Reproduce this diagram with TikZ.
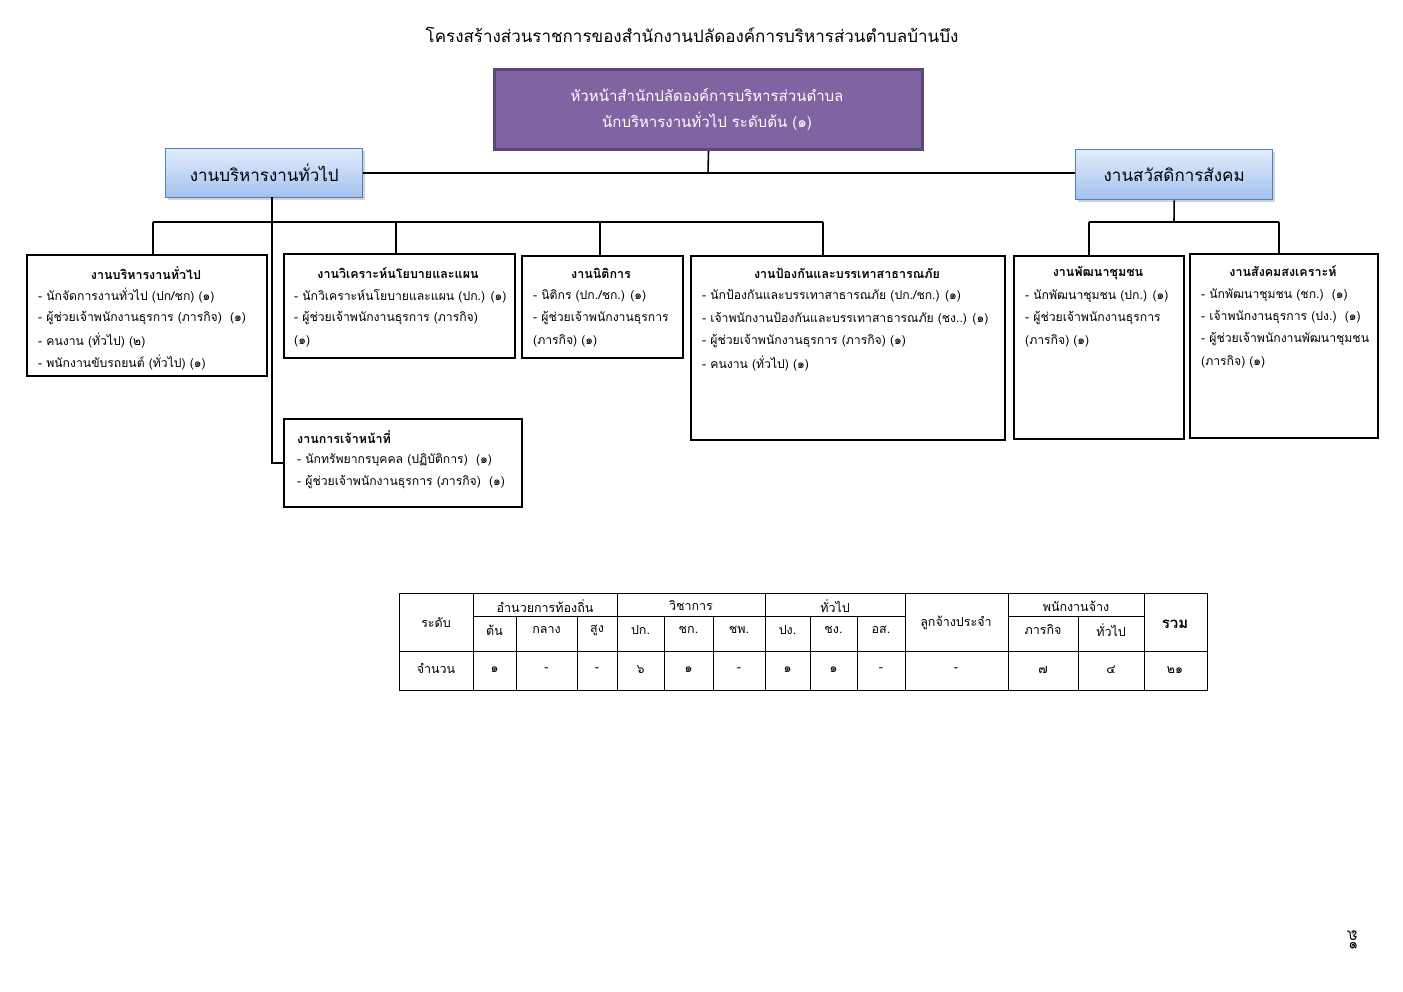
\documentclass[tikz,border=0pt]{standalone}
\usepackage{fontspec}
\setmainfont[Script=Thai]{Loma}
\usetikzlibrary{shadows}
\definecolor{purplefill}{HTML}{8064A2}
\definecolor{purpleedge}{HTML}{5C4878}
\definecolor{bluetop}{HTML}{E2ECFB}
\definecolor{bluebot}{HTML}{A3C1EF}
\definecolor{blueedge}{HTML}{4F81BD}
\tikzset{
  conn/.style={draw=black,line width=1.6pt},
  unitbox/.style={draw=black,line width=2.4pt,fill=white,anchor=north west,inner sep=0pt},
  headbox/.style={draw=purpleedge,line width=3pt,fill=purplefill,anchor=north west,inner sep=0pt},
  groupbox/.style={draw=blueedge,line width=1.4pt,top color=bluetop,bottom color=bluebot,anchor=north west,inner sep=0pt,
     drop shadow={shadow xshift=2pt,shadow yshift=-2pt,fill=black!35}},
  unittitle/.style={anchor=center,inner sep=0pt,font=\fontsize{12.5}{14}\selectfont\bfseries},
  item/.style={anchor=west,inner sep=0pt,font=\fontsize{12.2}{14}\selectfont},
  cell/.style={anchor=center,inner sep=0pt,font=\fontsize{12.5}{14}\selectfont},
  tline/.style={draw=black,line width=0.8pt}
}
\begin{document}
\begin{tikzpicture}[x=1pt,y=-1pt]
\useasboundingbox[fill=white] (0,0) rectangle (1403,992);

% title
\node[inner sep=0pt,font=\fontsize{17}{19}\selectfont] (title) at (692,35) {โครงสร้างส่วนราชการของสำนักงานปลัดองค์การบริหารส่วนตำบลบ้านบึง};

% head box
\node[headbox,minimum width=428pt,minimum height=80pt] (head) at (493,68) {};
\node[inner sep=0pt,text=white,font=\fontsize{15}{17}\selectfont] (headA) at (707,95) {หัวหน้าสำนักปลัดองค์การบริหารส่วนตำบล};
\node[inner sep=0pt,text=white,font=\fontsize{15}{17}\selectfont] (headB) at (707,121) {นักบริหารงานทั่วไป ระดับต้น (๑)};

% group boxes
\node[groupbox,minimum width=197pt,minimum height=49pt] (g1) at (165,148) {};
\node[inner sep=0pt,font=\fontsize{17}{19}\selectfont] (g1t) at (g1.center) {งานบริหารงานทั่วไป};
\node[groupbox,minimum width=197pt,minimum height=50pt] (g2) at (1075,149) {};
\node[inner sep=0pt,font=\fontsize{17}{19}\selectfont] (g2t) at (g2.center) {งานสวัสดิการสังคม};

% unit boxes
\node[unitbox,minimum width=240pt,minimum height=121pt] (b1) at (26,254) {};
\node[unitbox,minimum width=231pt,minimum height=104pt] (b2) at (283,253) {};
\node[unitbox,minimum width=161pt,minimum height=102pt] (b3) at (521,255) {};
\node[unitbox,minimum width=314pt,minimum height=184pt] (b4) at (690,255) {};
\node[unitbox,minimum width=170pt,minimum height=183pt] (b5) at (1013,255) {};
\node[unitbox,minimum width=188pt,minimum height=184pt] (b6) at (1189,253) {};
\node[unitbox,minimum width=238pt,minimum height=88pt] (b7) at (283,418) {};

% connectors
\coordinate (hub) at (708,174);
\draw[conn] (head.south) -- (hub);
\draw[conn] (g1.east) -- (g1.east -| g2.west);
\coordinate (ltrunk) at (272,197);
\draw[conn] (ltrunk) |- (b7.west);
\coordinate (j1) at (153,222);
\coordinate (j2) at (396,222);
\coordinate (j3) at (600,222);
\coordinate (j4) at (823,222);
\draw[conn] (j1) -- (j4);
\draw[conn] (j1) -- (j1 |- b1.north);
\draw[conn] (j2) -- (j2 |- b2.north);
\draw[conn] (j3) -- (j3 |- b3.north);
\draw[conn] (j4) -- (j4 |- b4.north);
\coordinate (rj) at (1174,222);
\coordinate (j5) at (1089,222);
\coordinate (j6) at (1279,222);
\draw[conn] (g2.south) -- (rj);
\draw[conn] (j5) -- (j6);
\draw[conn] (j5) -- (j5 |- b5.north);
\draw[conn] (j6) -- (j6 |- b6.north);

% box 1 text
\node[unittitle] (b1t) at (146,273) {งานบริหารงานทั่วไป};
\node[item] (b1a) at (38,296) {- นักจัดการงานทั่วไป (ปก/ชก) (๑)};
\node[item] (b1b) at (38,318) {- ผู้ช่วยเจ้าพนักงานธุรการ (ภารกิจ)~~(๑)};
\node[item] (b1c) at (38,341) {- คนงาน (ทั่วไป) (๒)};
\node[item] (b1d) at (38,363) {- พนักงานขับรถยนต์ (ทั่วไป) (๑)};

% box 2 text
\node[unittitle] (b2t) at (398,273) {งานวิเคราะห์นโยบายและแผน};
\node[item] (b2a) at (294,296) {- นักวิเคราะห์นโยบายและแผน (ปก.) (๑)};
\node[item] (b2b) at (294,318) {- ผู้ช่วยเจ้าพนักงานธุรการ (ภารกิจ)};
\node[item] (b2c) at (294,341) {(๑)};

% box 3 text
\node[unittitle] (b3t) at (601,273) {งานนิติการ};
\node[item] (b3a) at (533,296) {- นิติกร (ปก./ชก.) (๑)};
\node[item] (b3b) at (533,318) {- ผู้ช่วยเจ้าพนักงานธุรการ};
\node[item] (b3c) at (533,341) {(ภารกิจ) (๑)};

% box 4 text
\node[unittitle] (b4t) at (847,273) {งานป้องกันและบรรเทาสาธารณภัย};
\node[item] (b4a) at (702,296) {- นักป้องกันและบรรเทาสาธารณภัย (ปก./ชก.) (๑)};
\node[item] (b4b) at (702,319) {- เจ้าพนักงานป้องกันและบรรเทาสาธารณภัย (ชง..) (๑)};
\node[item] (b4c) at (702,341) {- ผู้ช่วยเจ้าพนักงานธุรการ (ภารกิจ) (๑)};
\node[item] (b4d) at (702,364) {- คนงาน (ทั่วไป) (๑)};

% box 5 text
\node[unittitle] (b5t) at (1098,273) {งานพัฒนาชุมชน};
\node[item] (b5a) at (1025,296) {- นักพัฒนาชุมชน (ปก.) (๑)};
\node[item] (b5b) at (1025,318) {- ผู้ช่วยเจ้าพนักงานธุรการ};
\node[item] (b5c) at (1025,341) {(ภารกิจ) (๑)};

% box 6 text
\node[unittitle] (b6t) at (1283,271) {งานสังคมสงเคราะห์};
\node[item] (b6a) at (1201,295) {- นักพัฒนาชุมชน (ชก.)~~(๑)};
\node[item] (b6b) at (1201,317) {- เจ้าพนักงานธุรการ (ปง.)~~(๑)};
\node[item] (b6c) at (1201,339) {- ผู้ช่วยเจ้าพนักงานพัฒนาชุมชน};
\node[item] (b6d) at (1201,362) {(ภารกิจ) (๑)};

% box 7 text
\node[item,font=\fontsize{12.5}{14}\selectfont\bfseries] (b7t) at (297,437) {งานการเจ้าหน้าที่};
\node[item] (b7a) at (297,460) {- นักทรัพยากรบุคคล~(ปฏิบัติการ)~~(๑)};
\node[item] (b7b) at (297,482) {- ผู้ช่วยเจ้าพนักงานธุรการ (ภารกิจ)~~(๑)};

% table
\draw[tline] (399,593) rectangle (1207,690);
\draw[tline] (399,651) -- (1207,651);
\draw[tline] (473,616) -- (905,616);
\draw[tline] (1008,616) -- (1144,616);
\foreach \x in {473,617,765,905,1008,1144} \draw[tline] (\x,593) -- (\x,690);
\foreach \x in {516,577,664,713,810,857,1078} \draw[tline] (\x,616) -- (\x,690);

\node[cell] (c00) at (436,623) {ระดับ};
\node[cell] (c01) at (545,606) {อำนวยการท้องถิ่น};
\node[cell] (c02) at (691,606) {วิชาการ};
\node[cell] (c03) at (835,606) {ทั่วไป};
\node[cell] (c04) at (956,623) {ลูกจ้างประจำ};
\node[cell] (c05) at (1076,606) {พนักงานจ้าง};
\node[cell,font=\fontsize{15}{17}\selectfont\bfseries] (c06) at (1175,624) {รวม};
\node[cell] (h1) at (494.5,630) {ต้น};
\node[cell] (h2) at (546.5,630) {กลาง};
\node[cell] (h3) at (597,630) {สูง};
\node[cell] (h4) at (640.5,630) {ปก.};
\node[cell] (h5) at (688.5,630) {ชก.};
\node[cell] (h6) at (739,630) {ชพ.};
\node[cell] (h7) at (787.5,630) {ปง.};
\node[cell] (h8) at (833.5,630) {ชง.};
\node[cell] (h9) at (881,630) {อส.};
\node[cell] (h10) at (1043,630) {ภารกิจ};
\node[cell] (h11) at (1111,630) {ทั่วไป};

\node[cell] (r0) at (436,668) {จำนวน};
\node[cell] (r1) at (494.5,670) {๑};
\node[cell] (r2) at (546.5,670) {-};
\node[cell] (r3) at (597,670) {-};
\node[cell] (r4) at (640.5,670) {๖};
\node[cell] (r5) at (688.5,670) {๑};
\node[cell] (r6) at (739,670) {-};
\node[cell] (r7) at (787.5,670) {๑};
\node[cell] (r8) at (833.5,670) {๑};
\node[cell] (r9) at (881,670) {-};
\node[cell] (r10) at (956,670) {-};
\node[cell] (r11) at (1043,670) {๗};
\node[cell] (r12) at (1111,670) {๔};
\node[cell] (r13) at (1175,670) {๒๑};

% page number
\node[inner sep=0pt,rotate=90,font=\fontsize{15}{17}\selectfont] (pg) at (1352,940) {๑๘};
\end{tikzpicture}
\end{document}
